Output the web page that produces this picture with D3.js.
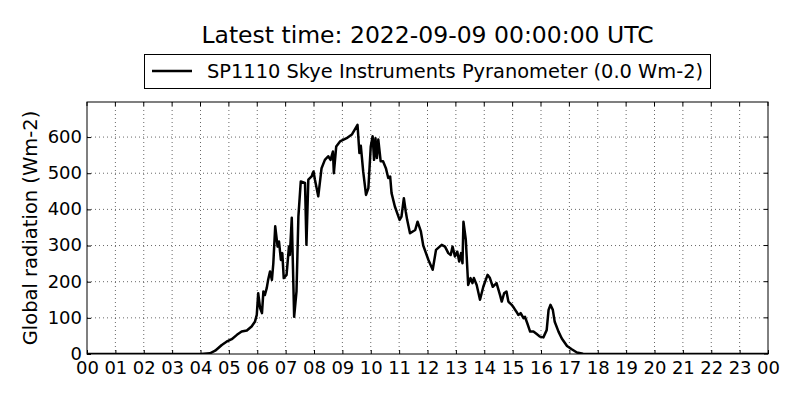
<!DOCTYPE html>
<html lang="en">
<head>
    <meta charset="UTF-8">
    <title>Global radiation</title>
    <script src="https://d3js.org/d3.v7.min.js"></script>
    <style>
        body {
            margin: 0;
            padding: 0;
            background: #fff;
        }
        svg text {
            font-family: "DejaVu Sans", sans-serif;
            fill: #000;
        }
    </style>
</head>
<body>
    <svg width="800" height="400"></svg>

    <script>
        // readings (UTC time, Wm-2)
        const times = ["00:00", "04:00", "04:20", "04:31", "04:45", "04:55", "05:06", "05:17", "05:27", "05:38",
            "05:48", "05:55", "05:59", "06:02", "06:06", "06:10", "06:13", "06:16", "06:20", "06:23",
            "06:27", "06:31", "06:34", "06:38", "06:43", "06:46", "06:50", "06:53", "06:56", "07:02",
            "07:07", "07:09", "07:13", "07:18", "07:23", "07:27", "07:32", "07:41", "07:44", "07:48",
            "07:55", "07:59", "08:02", "08:09", "08:16", "08:23", "08:30", "08:35", "08:40", "08:42",
            "08:47", "08:55", "09:09", "09:20", "09:32", "09:36", "09:39", "09:44", "09:50", "09:55",
            "10:00", "10:04", "10:07", "10:10", "10:13", "10:16", "10:21", "10:26", "10:32", "10:37",
            "10:41", "10:44", "10:51", "11:01", "11:05", "11:10", "11:14", "11:17", "11:23", "11:34",
            "11:39", "11:46", "11:51", "12:02", "12:11", "12:18", "12:30", "12:37", "12:44", "12:49",
            "12:53", "12:58", "13:03", "13:07", "13:11", "13:14", "13:16", "13:21", "13:26", "13:31",
            "13:35", "13:38", "13:44", "13:51", "13:58", "14:07", "14:12", "14:18", "14:26", "14:34",
            "14:37", "14:42", "14:47", "14:51", "14:58", "15:03", "15:08", "15:12", "15:17", "15:23",
            "15:26", "15:31", "15:37", "15:44", "15:51", "15:58", "16:05", "16:12", "16:16", "16:20",
            "16:25", "16:29", "16:37", "16:44", "16:55", "17:05", "17:16", "17:29", "18:00", "24:00"];
        const radiation = [0, 0, 2, 9, 25, 34, 41, 53, 62, 65,
            76, 89, 108, 168, 127, 113, 173, 163, 182, 205,
            228, 205, 251, 353, 297, 311, 260, 279, 210, 219,
            297, 274, 377, 103, 173, 380, 477, 473, 302, 482,
            491, 505, 482, 436, 514, 537, 547, 537, 560, 500,
            574, 588, 597, 607, 634, 556, 576, 505, 440, 459,
            574, 602, 537, 597, 542, 593, 533, 533, 514, 487,
            491, 445, 408, 371, 380, 431, 394, 371, 334, 343,
            366, 339, 300, 260, 233, 288, 302, 297, 279, 274,
            297, 270, 283, 256, 279, 251, 366, 316, 191, 210,
            196, 210, 191, 150, 186, 219, 210, 186, 196, 160,
            145, 168, 173, 145, 136, 127, 117, 108, 113, 99,
            103, 85, 62, 62, 55, 48, 46, 66, 122, 136,
            122, 89, 62, 43, 22, 13, 4, 1, 0, 0];
        const hourTicks = d3.range(0, 25);
        const hourLabels = hourTicks.map(h => String(h % 24).padStart(2, "0"));
        const yTicks = [0, 100, 200, 300, 400, 500, 600];
        const titleText = "Latest time: 2022-09-09 00:00:00 UTC";
        const legendText = "SP1110 Skye Instruments Pyranometer (0.0 Wm-2)";

        const data = times.map((t, i) => {
            const [hh, mm] = t.split(":").map(Number);
            return { hour: hh + mm / 60, value: radiation[i] };
        });

        const margin = { top: 102, right: 32, bottom: 46, left: 87 };
        const width = 800, height = 400;
        const innerW = width - margin.left - margin.right;
        const innerH = height - margin.top - margin.bottom;

        const svg = d3.select("svg");

        const x = d3.scaleLinear().domain([0, 24]).range([0, innerW]);
        const y = d3.scaleLinear().domain([0, 697]).range([innerH, 0]);

        const g = svg.append("g")
            .attr("transform", `translate(${margin.left},${margin.top})`);

        svg.append("defs").append("clipPath")
            .attr("id", "plot-clip")
            .append("rect")
            .attr("width", innerW)
            .attr("height", innerH);

        // dotted grid
        g.append("g").selectAll("line.vgrid")
            .data(hourTicks.slice(1, -1))
            .enter().append("line")
            .attr("x1", d => x(d)).attr("x2", d => x(d))
            .attr("y1", 0).attr("y2", innerH)
            .attr("stroke", "#000").attr("stroke-width", 0.6)
            .attr("stroke-dasharray", "1,3");

        g.append("g").selectAll("line.hgrid")
            .data(yTicks.slice(1))
            .enter().append("line")
            .attr("x1", 0).attr("x2", innerW)
            .attr("y1", d => y(d)).attr("y2", d => y(d))
            .attr("stroke", "#000").attr("stroke-width", 0.6)
            .attr("stroke-dasharray", "1,3");

        // axes with inward ticks
        const xAxis = d3.axisBottom(x)
            .tickValues(hourTicks)
            .tickFormat((d, i) => hourLabels[i])
            .tickSizeInner(-4)
            .tickSizeOuter(0);

        const yAxis = d3.axisLeft(y)
            .tickValues(yTicks)
            .tickSizeInner(-4)
            .tickSizeOuter(0);

        const xg = g.append("g")
            .attr("transform", `translate(0,${innerH})`)
            .call(xAxis);
        xg.select(".domain").remove();
        xg.selectAll("text").style("font-size", "18px").attr("dy", "0.71em").attr("y", 7);

        const yg = g.append("g").call(yAxis);
        yg.select(".domain").remove();
        yg.selectAll("text").style("font-size", "18px").attr("x", -5).attr("dy", "0.3em");

        // top and right ticks
        g.append("g").selectAll("line")
            .data(hourTicks)
            .enter().append("line")
            .attr("x1", d => x(d)).attr("x2", d => x(d))
            .attr("y1", 0).attr("y2", 4)
            .attr("stroke", "#000");
        g.append("g").selectAll("line")
            .data(yTicks)
            .enter().append("line")
            .attr("x1", innerW).attr("x2", innerW - 4)
            .attr("y1", d => y(d)).attr("y2", d => y(d))
            .attr("stroke", "#000");

        // radiation line
        const line = d3.line()
            .x(d => x(d.hour))
            .y(d => y(d.value));

        g.append("path")
            .datum(data)
            .attr("clip-path", "url(#plot-clip)")
            .attr("fill", "none")
            .attr("stroke", "#000")
            .attr("stroke-width", 2.5)
            .attr("stroke-linejoin", "round")
            .attr("d", line);

        // frame
        g.append("rect")
            .attr("width", innerW)
            .attr("height", innerH)
            .attr("fill", "none")
            .attr("stroke", "#000")
            .attr("stroke-width", 1);

        // title
        svg.append("text")
            .attr("x", margin.left + innerW / 2)
            .attr("y", 43)
            .attr("text-anchor", "middle")
            .style("font-size", "23.5px")
            .text(titleText);

        // legend
        const legend = svg.append("g");
        legend.append("rect")
            .attr("x", 144.5).attr("y", 54.5)
            .attr("width", 566).attr("height", 34)
            .attr("fill", "#fff")
            .attr("stroke", "#000");
        legend.append("line")
            .attr("x1", 152).attr("x2", 192)
            .attr("y1", 71).attr("y2", 71)
            .attr("stroke", "#000")
            .attr("stroke-width", 2.5);
        legend.append("text")
            .attr("x", 207)
            .attr("y", 78)
            .style("font-size", "19.4px")
            .text(legendText);

        // y label
        svg.append("text")
            .attr("transform", `translate(37,${margin.top + innerH / 2}) rotate(-90)`)
            .attr("text-anchor", "middle")
            .style("font-size", "19.5px")
            .text("Global radiation (Wm-2)");
    </script>
</body>
</html>
